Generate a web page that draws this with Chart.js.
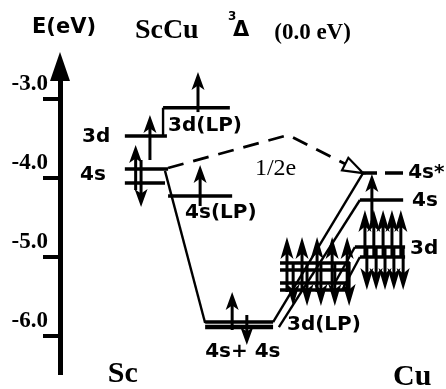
<!DOCTYPE html>
<html><head><meta charset="utf-8">
<script src="https://cdn.jsdelivr.net/npm/chart.js@4.4.1/dist/chart.umd.min.js"></script>
<style>html,body{margin:0;padding:0;background:#fff;}canvas{display:block;}</style>
</head><body>
<canvas id="c" width="446" height="389"></canvas>
<script>
// Energy axis (eV); x is an arbitrary diagram coordinate 0..100
const energyTicks = [-3.0, -4.0, -5.0, -6.0];

// Orbital levels
const levelNames  = ['Sc 3d','Sc 4s a','Sc 4s b','3d(LP)','4s(LP)','4s+4s a','4s+4s b','Cu 4s','Cu 3d a','Cu 3d b','3d(LP) 1','3d(LP) 2','3d(LP) 3','3d(LP) 4'];
const levelEnergy = [-3.468, -3.886, -4.063, -3.11, -4.228, -5.823, -5.886, -4.278, -4.873, -5.0, -5.076, -5.165, -5.329, -5.418];
const levelFrom   = [16.8, 16.8, 16.8, 26.7, 28.0, 37.6, 37.6, 77.7, 76.4, 77.7, 57.0, 57.0, 57.0, 57.0];
const levelTo     = [27.7, 28.0, 27.2, 44.0, 44.6, 55.2, 55.2, 88.9, 89.4, 89.4, 75.1, 75.1, 75.1, 75.1];

// 4s* level (dashed)
const starLevelEnergy = -3.937;
const starLevelFrom = 78.5, starLevelTo = 88.9;

// Correlation lines
const connFromX = [26.7, 27.2, 55.2, 56.7, 71.2, 73.1];
const connFromE = [-3.468, -3.91, -5.823, -5.886, -5.329, -5.418];
const connToX   = [26.7, 37.6, 78.5, 77.7, 76.4, 77.7];
const connToE   = [-3.11, -5.835, -3.937, -4.278, -4.873, -5.0];

// 1/2 e transfer path (dashed, open arrowhead at end)
const transferX = [28.0, 59.1, 78.5];
const transferE = [-3.873, -3.456, -3.937];

// Electron spin arrows: x, tail energy, tip energy
const arrowX    = [23.3, 19.6, 21.0, 35.75, 36.3, 44.6, 48.4, 80.8,
                   79.0, 81.3, 83.7, 86.0, 88.3,
                   79.5, 81.9, 84.2, 86.5, 88.9,
                   58.8, 62.7, 66.6, 70.5, 74.4,
                   60.4, 64.0, 67.6, 71.2, 74.9];
const arrowTail = [-3.772, -4.152, -3.772, -3.165, -4.354, -5.924, -5.734, -4.557,
                   -5.0, -5.0, -5.0, -5.0, -5.0,
                   -4.873, -4.873, -4.873, -4.873, -4.873,
                   -5.443, -5.443, -5.443, -5.443, -5.443,
                   -5.063, -5.063, -5.063, -5.063, -5.063];
const arrowTip  = [-3.203, -3.582, -4.367, -2.658, -3.835, -5.443, -6.114, -3.949,
                   -4.405, -4.405, -4.405, -4.405, -4.405,
                   -5.418, -5.418, -5.418, -5.418, -5.418,
                   -4.747, -4.747, -4.747, -4.747, -4.747,
                   -5.62, -5.62, -5.62, -5.62, -5.62];
const arrowGroup = ['s','s','s','s','s','s','s','s',
                    'd','d','d','d','d','d','d','d','d','d',
                    'd','d','d','d','d','d','d','d','d','d'];

// Text labels
const labelText = ['E(eV)','ScCu','3','\u0394','(0.0 eV)','3d','4s','3d(LP)','4s(LP)','1/2e','4s*','4s','3d','3d(LP)','4s+ 4s','Sc','Cu'];
const labelX    = [-7.25, 19.4, 43.5, 44.8, 55.5, 5.7, 5.2, 28.0, 32.4, 50.5, 90.2, 91.2, 90.7, 58.8, 37.6, 12.4, 86.3];
const labelE    = [-2.089, -2.139, -1.962, -2.139, -2.165, -3.481, -3.962, -3.342, -4.443, -3.886, -3.937, -4.291, -4.899, -5.861, -6.203, -6.48, -6.519];
const labelKind = ['axis','title','sup','delta','state','orb','orb','orb','orb','note','orb','orb','orb','orb','orb','atom','atom'];

const FONTS = {
  axis:  'bold 21px "DejaVu Sans"',
  title: 'bold 28px "Liberation Serif"',
  sup:   'bold 12px "DejaVu Sans"',
  delta: 'bold 21px "DejaVu Sans"',
  state: 'bold 23px "Liberation Serif"',
  orb:   'bold 20px "DejaVu Sans"',
  note:  '24px "Liberation Serif"',
  atom:  'bold 30px "Liberation Serif"'
};

const seg = (x0,y0,x1,y1) => [{x:x0,y:y0},{x:x1,y:y1}];
const datasets = [];
levelNames.forEach((n,i) => {
  datasets.push({label:n, data: seg(levelFrom[i], levelEnergy[i], levelTo[i], levelEnergy[i]),
    borderColor:'#000', borderWidth: (n==='4s+4s b') ? 4.5 : 3.5, showLine:true, pointRadius:0, clip:false, borderCapStyle:'butt'});
});
datasets.push({label:'4s*', data: seg(starLevelFrom, starLevelEnergy, starLevelTo, starLevelEnergy),
  borderColor:'#000', borderWidth:3.5, borderDash:[14,8,18,8], showLine:true, pointRadius:0, clip:false});
connFromX.forEach((x,i) => {
  datasets.push({label:'conn'+i, data: seg(x, connFromE[i], connToX[i], connToE[i]),
    borderColor:'#000', borderWidth:2.4, showLine:true, pointRadius:0, clip:false});
});
datasets.push({label:'transfer', data: transferX.map((x,i)=>({x, y:transferE[i]})),
  borderColor:'#000', borderWidth:2.8, borderDash:[16,10], showLine:true, pointRadius:0, clip:false, tension:0});

const diagramPlugin = {
  id:'diagram',
  afterDraw(chart){
    const ctx = chart.ctx, xs = chart.scales.x, ys = chart.scales.y, ca = chart.chartArea;
    ctx.save();
    ctx.fillStyle = '#000'; ctx.strokeStyle = '#000';
    // axis arrow head
    const ax = ca.left, top = ca.top;
    ctx.beginPath(); ctx.moveTo(ax, ys.getPixelForValue(-2.405)); ctx.lineTo(ax-10, top+1); ctx.lineTo(ax+10, top+1); ctx.closePath(); ctx.fill();
    // spin arrows
    arrowX.forEach((xv,i) => {
      const x = xs.getPixelForValue(xv), yt = ys.getPixelForValue(arrowTail[i]), yp = ys.getPixelForValue(arrowTip[i]);
      const dir = Math.sign(yp - yt);
      const L = arrowGroup[i]==='d' ? 22 : 18, W = 13;
      ctx.lineWidth = 3; ctx.lineCap = 'butt';
      ctx.beginPath(); ctx.moveTo(x, yt); ctx.lineTo(x, yp - dir*L*0.6); ctx.stroke();
      ctx.beginPath(); ctx.moveTo(x, yp); ctx.lineTo(x - W/2, yp - dir*L); ctx.lineTo(x, yp - dir*L*0.75); ctx.lineTo(x + W/2, yp - dir*L); ctx.closePath(); ctx.fill();
    });
    // open arrowhead on transfer path
    const n = transferX.length;
    const tx = xs.getPixelForValue(transferX[n-1]), ty = ys.getPixelForValue(transferE[n-1]);
    const px = xs.getPixelForValue(transferX[n-2]), py = ys.getPixelForValue(transferE[n-2]);
    const dx = tx-px, dy = ty-py, len = Math.hypot(dx,dy), ux = dx/len, uy = dy/len;
    const hl = 20, hw = 7;
    ctx.beginPath();
    ctx.moveTo(tx, ty);
    ctx.lineTo(tx - ux*hl - uy*hw, ty - uy*hl + ux*hw);
    ctx.lineTo(tx - ux*hl + uy*hw, ty - uy*hl - ux*hw);
    ctx.closePath();
    ctx.fillStyle = '#fff'; ctx.fill(); ctx.lineWidth = 2.2; ctx.stroke();
    // labels
    ctx.fillStyle = '#000'; ctx.textAlign = 'left'; ctx.textBaseline = 'middle';
    labelText.forEach((t,i) => {
      ctx.font = FONTS[labelKind[i]];
      ctx.fillText(t, xs.getPixelForValue(labelX[i]), ys.getPixelForValue(labelE[i]));
    });
    ctx.restore();
  }
};

new Chart(document.getElementById('c'), {
  type:'scatter',
  data:{datasets},
  options:{
    responsive:false, animation:false, devicePixelRatio:1,
    layout:{padding:{left:0, right:0, top:80, bottom:16}},
    plugins:{legend:{display:false}, tooltip:{enabled:false}},
    scales:{
      x:{type:'linear', min:0, max:100, display:false},
      y:{type:'linear', min:-6.468, max:-2.759,
        afterFit(s){ s.width = 60; },
        afterBuildTicks(s){ s.ticks = energyTicks.map(v=>({value:v})); },
        ticks:{callback:v=>Number(v).toFixed(1), color:'#000', font:{family:'Liberation Serif', weight:'bold', size:23},
               labelOffset:-15, padding:-5, autoSkip:false},
        grid:{drawOnChartArea:false, drawTicks:true, tickLength:17, lineWidth:4, color:'#000'},
        border:{display:true, width:5, color:'#000'}
      }
    }
  },
  plugins:[diagramPlugin]
});
</script>
</body></html>
